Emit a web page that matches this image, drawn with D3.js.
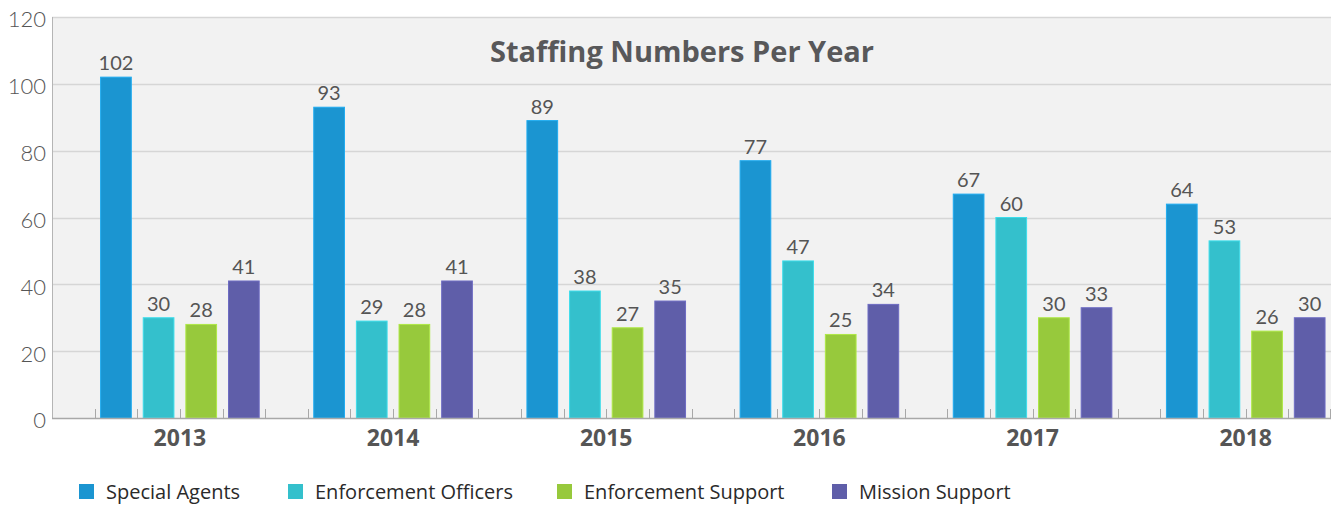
<!DOCTYPE html>
<html>
<head>
<meta charset="utf-8">
<script src="https://cdn.jsdelivr.net/npm/d3@7"></script>
<style>
  html, body { margin: 0; padding: 0; background: #ffffff; }
  svg { display: block; font-family: Lato, "Open Sans", sans-serif; }
</style>
</head>
<body>
<svg id="chart" width="1332" height="506"></svg>
<script>
// Staffing counts by year and staff category
const years = ["2013", "2014", "2015", "2016", "2017", "2018"];
const seriesNames = ["Special Agents", "Enforcement Officers", "Enforcement Support", "Mission Support"];
const specialAgents       = [102, 93, 89, 77, 67, 64];
const enforcementOfficers = [30, 29, 38, 47, 60, 53];
const enforcementSupport  = [28, 28, 27, 25, 30, 26];
const missionSupport      = [41, 41, 35, 34, 33, 30];
const seriesColors = ["#1b95d1", "#34c0cc", "#97c93c", "#5f5ea9"];
const yTicks = [0, 20, 40, 60, 80, 100, 120];
const titleText = "Staffing Numbers Per Year";

const seriesValues = [specialAgents, enforcementOfficers, enforcementSupport, missionSupport];
const rows = years.map((yr, i) => ({
  year: yr,
  values: seriesNames.map((name, k) => ({ name, value: seriesValues[k][i], color: seriesColors[k] }))
}));

const svg = d3.select("#chart");
const plotLeft = 52, plotRight = 1331, plotTop = 17, plotBottom = 418;

const y = d3.scaleLinear().domain([0, 120]).range([plotBottom, plotTop]);
const x0 = d3.scaleBand().domain(years).range([plotLeft, plotRight]).padding(0);
// each year band holds five equal slots: one empty slot, then the four series
const slotW = x0.bandwidth() / 5;
const x1 = d3.scaleBand().domain(seriesNames).range([slotW, x0.bandwidth()]).paddingInner(0.28).paddingOuter(0.14);

// plot background
svg.append("rect")
  .attr("x", plotLeft).attr("y", plotTop)
  .attr("width", plotRight - plotLeft).attr("height", plotBottom - plotTop)
  .attr("fill", "#f2f2f2");

// horizontal gridlines
svg.append("g")
  .selectAll("line")
  .data(yTicks.filter(d => d > 0))
  .join("line")
  .attr("x1", plotLeft).attr("x2", plotRight)
  .attr("y1", d => Math.round(y(d)) + 0.5).attr("y2", d => Math.round(y(d)) + 0.5)
  .attr("stroke", "#d6d6d6").attr("stroke-width", 1.3);

// y axis labels
const yAxis = d3.axisLeft(y).tickValues(yTicks).tickSize(0).tickPadding(6);
const gy = svg.append("g").attr("transform", `translate(${plotLeft},0)`).call(yAxis);
gy.select(".domain").remove();
gy.selectAll("text")
  .attr("font-family", "Lato, sans-serif")
  .attr("font-size", 22)
  .attr("font-weight", 300)
  .attr("fill", "#555555")
  .attr("dy", "0.45em");

// bars
const groups = svg.append("g")
  .selectAll("g")
  .data(rows)
  .join("g")
  .attr("transform", d => `translate(${x0(d.year)},0)`);

groups.selectAll("rect")
  .data(d => d.values)
  .join("rect")
  .attr("x", d => x1(d.name))
  .attr("y", d => y(d.value))
  .attr("width", x1.bandwidth())
  .attr("height", d => y(0) - y(d.value))
  .attr("fill", d => d.color)
  .attr("stroke", d => d3.color(d.color).brighter(0.4))
  .attr("stroke-width", 1);

// value labels
groups.selectAll("text.val")
  .data(d => d.values)
  .join("text")
  .attr("class", "val")
  .attr("x", d => x1(d.name) + x1.bandwidth() / 2)
  .attr("y", d => y(d.value) - 7)
  .attr("text-anchor", "middle")
  .attr("font-size", 20)
  .attr("font-weight", 400)
  .attr("fill", "#555555")
  .text(d => d.value);

// left axis line and baseline
svg.append("line")
  .attr("x1", plotLeft + 0.5).attr("x2", plotLeft + 0.5)
  .attr("y1", plotTop).attr("y2", plotBottom)
  .attr("stroke", "#b5b5b5").attr("stroke-width", 1);
svg.append("line")
  .attr("x1", plotLeft).attr("x2", plotRight)
  .attr("y1", plotBottom + 0.5).attr("y2", plotBottom + 0.5)
  .attr("stroke", "#a8a8a8").attr("stroke-width", 1.5);

// small tick marks at every slot boundary
const tickXs = [];
years.forEach(yr => {
  for (let s = 0; s < 5; s++) tickXs.push(x0(yr) + s * slotW);
});
tickXs.push(plotRight - 1);
svg.append("g")
  .selectAll("line")
  .data(tickXs.filter(t => t > plotLeft + 1))
  .join("line")
  .attr("x1", d => Math.round(d) + 0.5).attr("x2", d => Math.round(d) + 0.5)
  .attr("y1", plotBottom - 9).attr("y2", plotBottom)
  .attr("stroke", "#a8a8a8").attr("stroke-width", 1);

// year labels centred under the four bars
svg.append("g")
  .selectAll("text")
  .data(years)
  .join("text")
  .attr("x", d => x0(d) + slotW + (x0.bandwidth() - slotW) / 2)
  .attr("y", 446)
  .attr("text-anchor", "middle")
  .attr("font-family", "'Open Sans', sans-serif")
  .attr("font-size", 23)
  .attr("font-weight", 700)
  .attr("fill", "#555555")
  .text(d => d);

// title
svg.append("text")
  .attr("x", 682)
  .attr("y", 62)
  .attr("text-anchor", "middle")
  .attr("font-family", "'Open Sans', sans-serif")
  .attr("font-size", 29)
  .attr("font-weight", 700)
  .attr("fill", "#58585a")
  .text(titleText);

// legend
const legendX = [79, 288, 557, 832];
const legend = svg.append("g")
  .selectAll("g")
  .data(seriesNames)
  .join("g")
  .attr("transform", (d, i) => `translate(${legendX[i]},484)`);
legend.append("rect")
  .attr("width", 15).attr("height", 15)
  .attr("fill", (d, i) => seriesColors[i]);
legend.append("text")
  .attr("x", 27).attr("y", 14.5)
  .attr("font-family", "'Open Sans', sans-serif")
  .attr("font-size", 20)
  .attr("font-weight", 400)
  .attr("fill", "#2a2a2a")
  .text(d => d);
</script>
</body>
</html>
